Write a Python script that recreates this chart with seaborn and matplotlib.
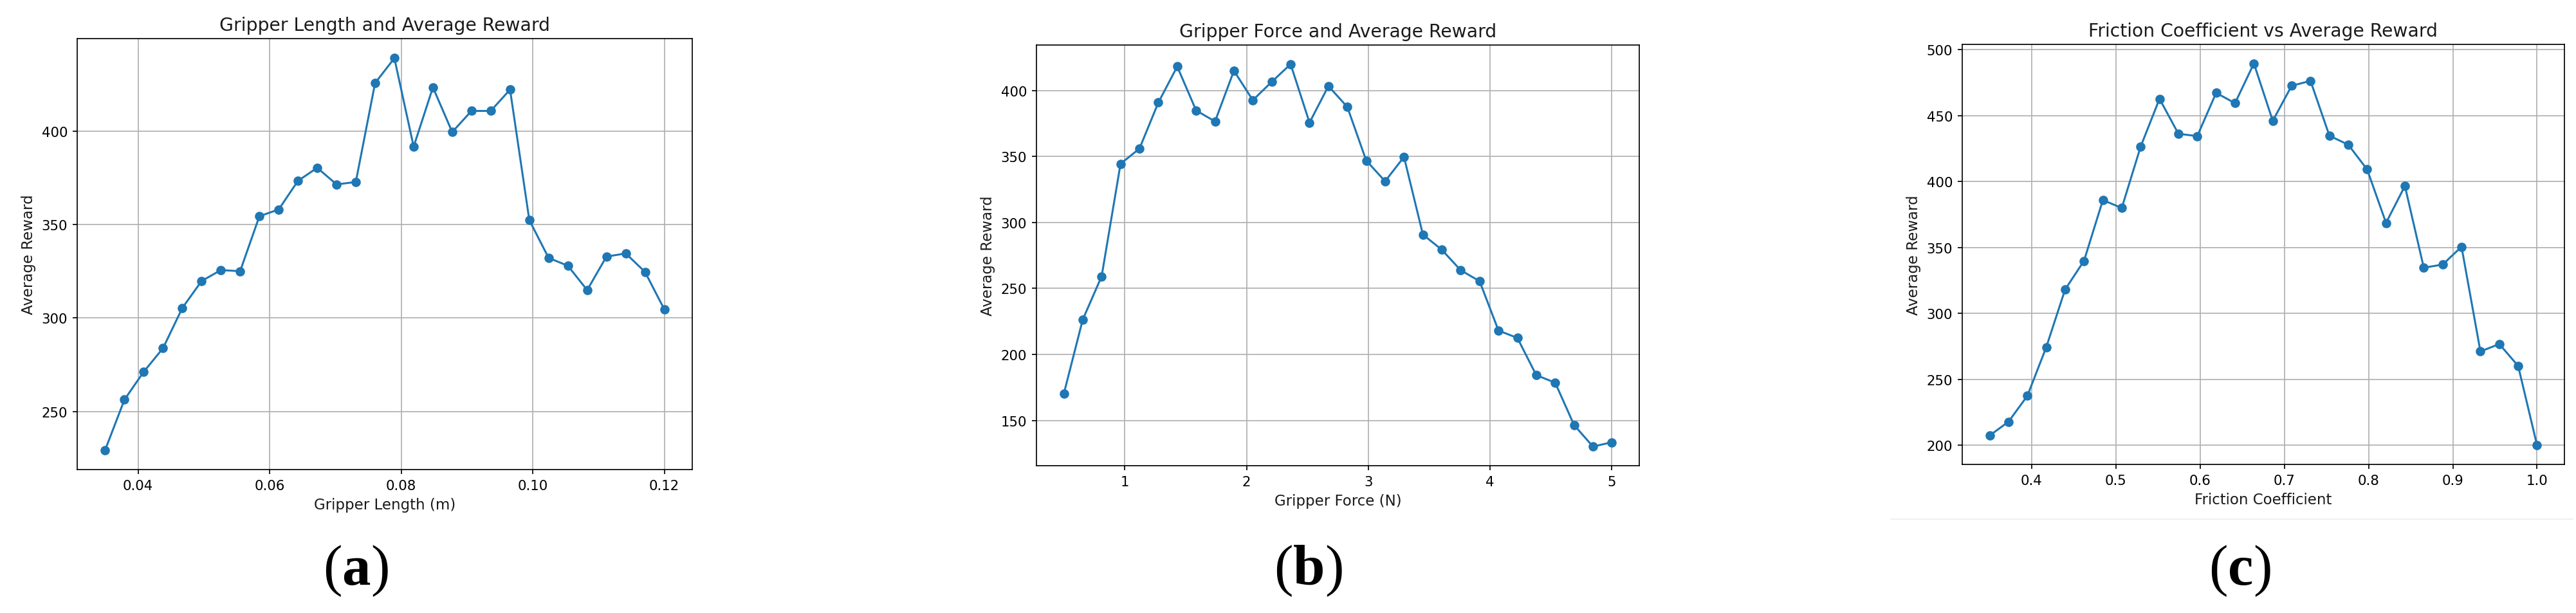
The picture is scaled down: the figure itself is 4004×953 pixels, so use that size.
import numpy as np
import pandas as pd
import matplotlib
matplotlib.use("Agg")
import matplotlib.pyplot as plt
from matplotlib.lines import Line2D
import seaborn as sns

# ---------------- data ----------------
length_m = np.linspace(0.035, 0.12, 30)
length_reward = [229.4, 256.3, 271.2, 283.8, 305.3, 319.7, 325.6, 325.0, 354.4, 358.0,
                 373.3, 380.3, 371.4, 372.7, 425.6, 438.9, 391.6, 423.3, 399.4, 410.7,
                 410.7, 422.1, 352.3, 332.1, 327.9, 314.9, 332.8, 334.5, 324.6, 304.6]

force_n = np.linspace(0.5, 5.0, 30)
force_reward = [170.3, 226.4, 259.2, 344.4, 355.9, 390.8, 418.1, 384.8, 376.5, 414.9,
                392.6, 406.5, 419.9, 375.6, 403.3, 387.5, 346.9, 331.2, 349.6, 290.8,
                279.3, 263.8, 255.5, 218.1, 212.5, 184.3, 178.6, 146.5, 130.2, 133.5]

friction = np.linspace(0.35, 1.0, 30)
friction_reward = [207.4, 217.9, 237.5, 274.4, 318.2, 339.9, 386.0, 380.0, 426.5, 462.8,
                   436.3, 434.5, 467.3, 459.5, 489.6, 446.1, 472.7, 476.4, 434.8, 428.0,
                   409.2, 368.7, 396.7, 334.7, 337.1, 350.6, 271.2, 276.8, 260.2, 200.0]

titles = ["Gripper Length and Average Reward",
          "Gripper Force and Average Reward",
          "Friction Coefficient vs Average Reward"]
xlabels = ["Gripper Length (m)", "Gripper Force (N)", "Friction Coefficient"]
ylabel = "Average Reward"
panel_labels = ["a", "b", "c"]

# ---------------- style ----------------
sns.set_style("ticks")
S = 1.53
plt.rcParams.update({
    "font.family": ["DejaVu Sans"],
    "axes.edgecolor": "black",
    "axes.linewidth": 0.8 * S,
    "xtick.major.width": 0.8 * S,
    "ytick.major.width": 0.8 * S,
    "xtick.major.size": 3.5 * S,
    "ytick.major.size": 3.5 * S,
    "xtick.major.pad": 3.5 * S,
    "ytick.major.pad": 3.5 * S,
    "xtick.color": "black",
    "ytick.color": "black",
    "xtick.labelsize": 15.3,
    "ytick.labelsize": 15.3,
    "axes.labelsize": 16.5,
    "axes.titlesize": 20.3,
    "axes.labelpad": 4 * S,
    "axes.titlepad": 6 * S,
    "text.color": "#1a1a1a",
    "axes.labelcolor": "#1a1a1a",
    "mathtext.fontset": "custom",
    "mathtext.rm": "Liberation Serif",
    "mathtext.bf": "Liberation Serif:bold",
})

W, H = 4004, 954
fig = plt.figure(figsize=(W / 100, H / 100), dpi=100)
fig.patch.set_facecolor("white")

boxes = [(120, 1076, 61, 731), (1611, 2548, 71, 725), (3050, 3986, 70, 723)]
label_x = [553, 2033, 3481]
datasets = [(length_m, length_reward), (force_n, force_reward), (friction, friction_reward)]

for i, ((l, r, t, b), (xs, ys)) in enumerate(zip(boxes, datasets)):
    ax = fig.add_axes([l / W, 1 - b / H, (r - l) / W, (b - t) / H])
    df = pd.DataFrame({"x": xs, "y": ys})
    sns.lineplot(data=df, x="x", y="y", ax=ax, color="#1f77b4", marker="o",
                 markersize=10.5, linewidth=2.2, markeredgewidth=0,
                 markeredgecolor="#1f77b4")
    ax.grid(True, color="#b0b0b0", linewidth=0.8 * S)
    ax.set_axisbelow(True)
    ax.set_title(titles[i])
    ax.set_xlabel(xlabels[i])
    ax.set_ylabel(ylabel)
    for sp in ax.spines.values():
        sp.set_visible(True)
        sp.set_color("black")
    fig.text(label_x[i] / W, 1 - 909 / H, r"$(\mathbf{%s})$" % panel_labels[i],
             ha="center", va="baseline", fontsize=64, color="black")

# faint divider line under panel (c)
fig.add_artist(Line2D([2939 / W, 3999 / W], [1 - 808 / H, 1 - 808 / H],
                      transform=fig.transFigure, color="#f0f0f0", linewidth=1.5))

fig.savefig("out.png", dpi=100, facecolor="white")
